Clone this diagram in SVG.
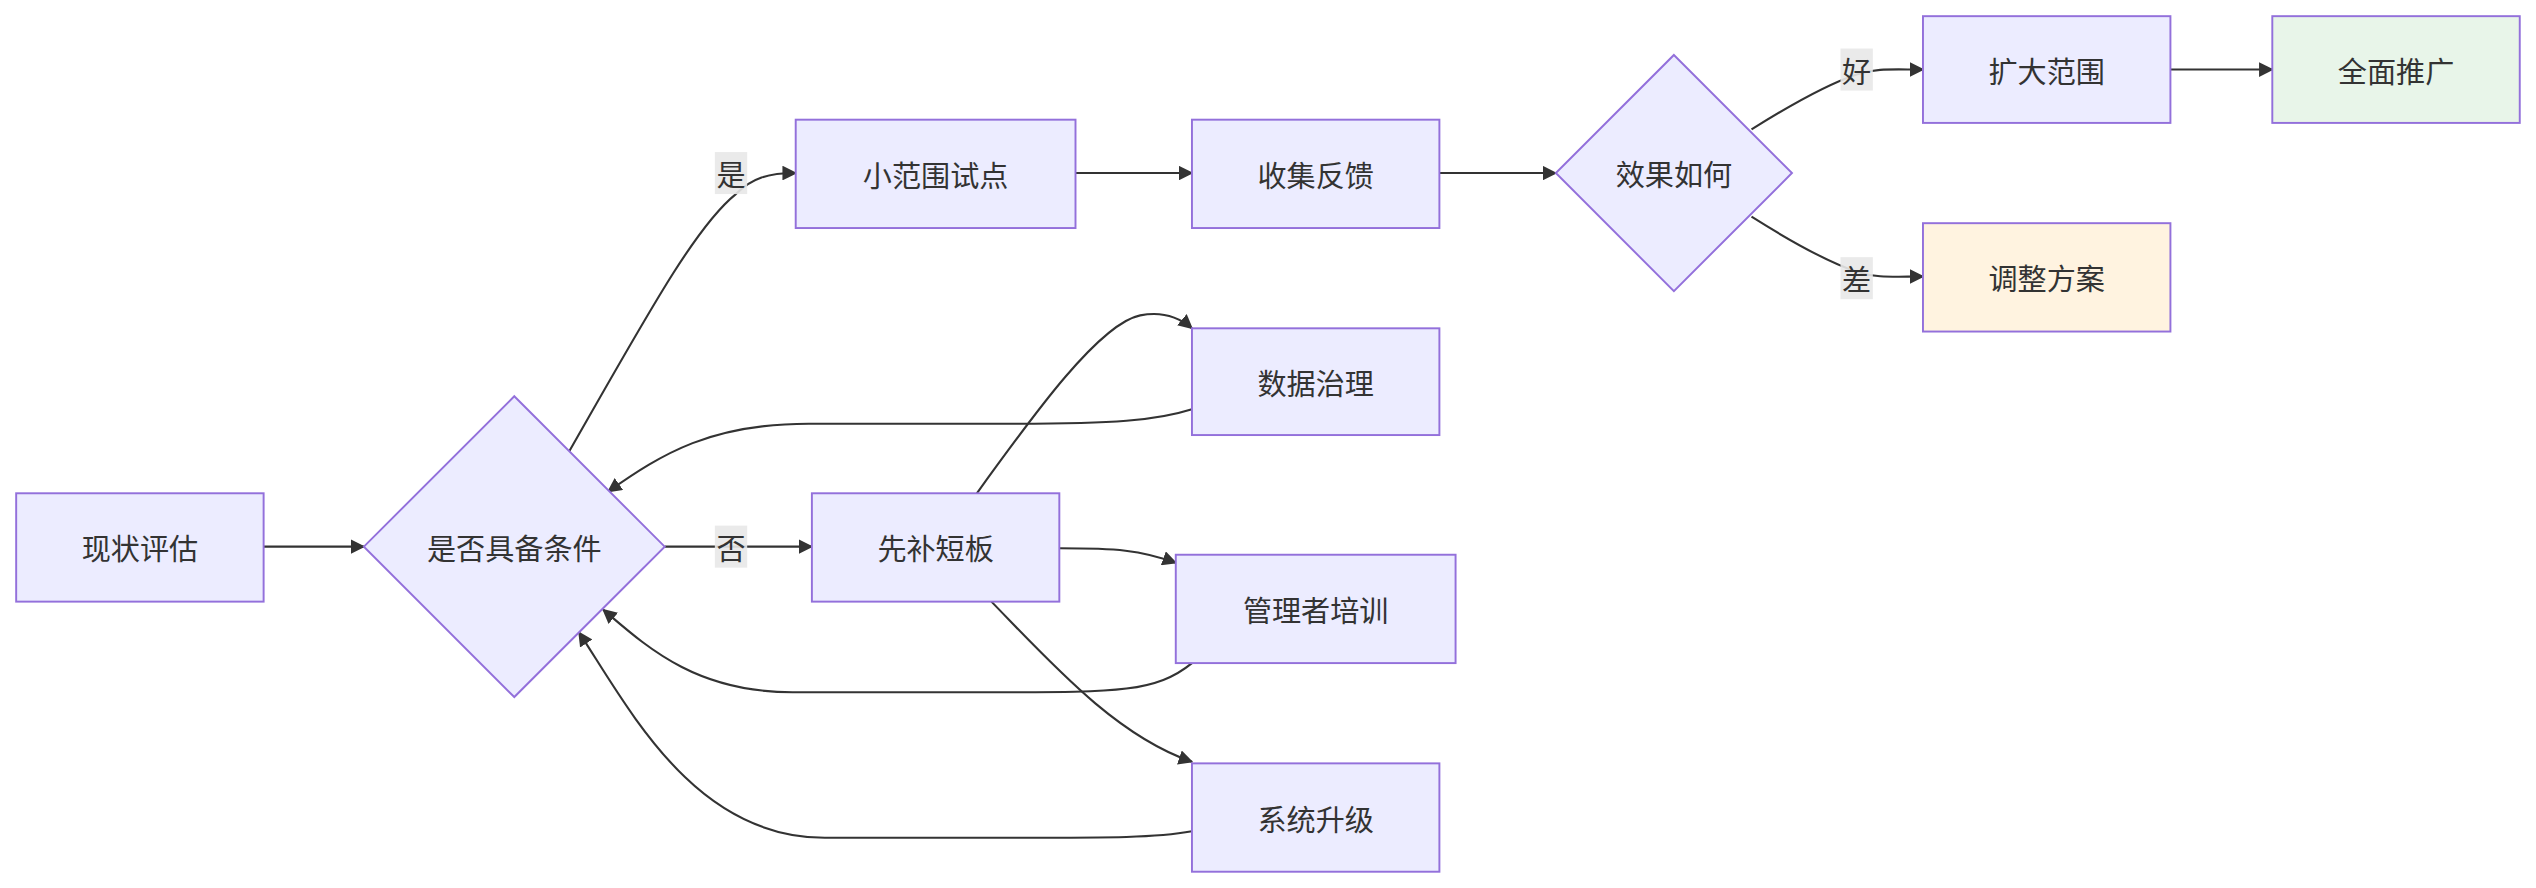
<svg xmlns="http://www.w3.org/2000/svg" width="2536" height="888" viewBox="0 0 2536 888">
<defs>
<style>
.n{fill:#ECECFF;stroke:#9370DB;stroke-width:1.2}
.g{fill:#E8F5E9}
.o{fill:#FFF3E0}
text{font-family:"Noto Sans CJK SC","Liberation Sans",sans-serif;font-size:18px;fill:#333;text-anchor:middle;dominant-baseline:central}
.e{fill:none;stroke:#333;stroke-width:1.3;marker-end:url(#a)}
.lb{fill:#E8E8E8;opacity:0.9}
</style>
<marker id="a" viewBox="0 0 10 10" refX="9" refY="5" markerWidth="7" markerHeight="7" orient="auto-start-reverse"><path d="M0,0L10,5L0,10z" fill="#333"/></marker>
</defs>
<rect width="2536" height="888" fill="#fff"/>
<g transform="scale(1.6173)">
<g id="connectors">
<path class="e" d="M163,338L225,338"/>
<path class="e" d="M352,279C400,195 430,140 455,120C465,110 475,107 492,107"/>
<path class="e" d="M411,338L502,338"/>
<path class="e" d="M665,107L737,107"/>
<path class="e" d="M890,107L962,107"/>
<path class="e" d="M1083,80C1110,63 1130,52 1148,46C1160,42 1170,43 1189,43"/>
<path class="e" d="M1083,134C1110,151 1130,162 1148,168C1160,172 1170,171 1189,171"/>
<path class="e" d="M1342,43L1405,43"/>
<path class="e" d="M604,305C640,255 680,200 705,195C720,192 730,197 737,203"/>
<path class="e" d="M737,253C715,260 690,262 620,262L500,262C440,262 410,280 376,304"/>
<path class="e" d="M655,339C690,339 705,340 727,348"/>
<path class="e" d="M737,410C715,428 690,428 620,428L490,428C430,428 400,400 373,377"/>
<path class="e" d="M613,372C650,410 690,455 737,471"/>
<path class="e" d="M737,514C715,518 690,518 620,518L510,518C430,518 390,440 358,391"/>
<rect class="lb" x="442" y="94" width="20" height="26"/><text x="452" y="107">是</text>
<rect class="lb" x="442" y="325" width="20" height="26"/><text x="452" y="338">否</text>
<rect class="lb" x="1138" y="30" width="20" height="26"/><text x="1148" y="43">好</text>
<rect class="lb" x="1138" y="159" width="20" height="26"/><text x="1148" y="172">差</text>
</g>
<g id="n1"><rect class="n" x="10" y="305" width="153" height="67"/><text x="86.5" y="338.5">现状评估</text></g>
<g id="n2"><polygon class="n" points="318,245 411,338 318,431 225,338"/><text x="318" y="338">是否具备条件</text></g>
<g id="n3"><rect class="n" x="492" y="74" width="173" height="67"/><text x="578.5" y="107.5">小范围试点</text></g>
<g id="n4"><rect class="n" x="737" y="74" width="153" height="67"/><text x="813.5" y="107.5">收集反馈</text></g>
<g id="n5"><polygon class="n" points="1035,34 1108,107 1035,180 962,107"/><text x="1035" y="107">效果如何</text></g>
<g id="n6"><rect class="n" x="1189" y="10" width="153" height="66"/><text x="1265.5" y="43">扩大范围</text></g>
<g id="n7"><rect class="n g" x="1405" y="10" width="153" height="66"/><text x="1481.5" y="43">全面推广</text></g>
<g id="n8"><rect class="n o" x="1189" y="138" width="153" height="67"/><text x="1265.5" y="171.5">调整方案</text></g>
<g id="n9"><rect class="n" x="737" y="203" width="153" height="66"/><text x="813.5" y="236">数据治理</text></g>
<g id="n10"><rect class="n" x="502" y="305" width="153" height="67"/><text x="578.5" y="338.5">先补短板</text></g>
<g id="n11"><rect class="n" x="727" y="343" width="173" height="67"/><text x="813.5" y="376.5">管理者培训</text></g>
<g id="n12"><rect class="n" x="737" y="472" width="153" height="67"/><text x="813.5" y="505.5">系统升级</text></g>
</g>
</svg>
